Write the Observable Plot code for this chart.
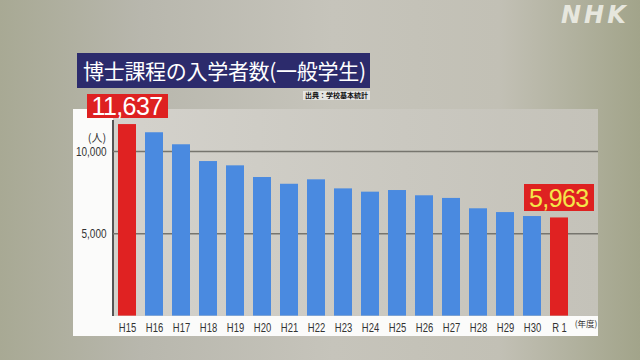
<!DOCTYPE html>
<html><head><meta charset="utf-8">
<script src="https://cdn.jsdelivr.net/npm/d3@7"></script>
<script src="https://cdn.jsdelivr.net/npm/@observablehq/plot@0.6"></script>
<style>
html,body{margin:0;padding:0;}
#wrap{position:relative;width:640px;height:360px;overflow:hidden;
 background:linear-gradient(90deg,#a8a994 0%,#b8b7ad 22%,#c6c4bb 52%,#c2c0b5 78%,#a2a48a 100%);
 font-family:"Noto Sans CJK JP",sans-serif;}
.abs{position:absolute;}
#panel{left:73px;top:109px;width:525px;height:227px;background:#fbfbfa;}
#plotbg{left:113px;top:109px;width:485px;height:207px;background:linear-gradient(90deg,#d4d2cc 0%,#cac8c0 60%,#c4c2b9 100%);}
#title{left:77px;top:53px;width:293px;height:35px;background:#2c2b6c;color:#fff;font-size:21px;line-height:35px;padding-left:6px;box-sizing:border-box;white-space:nowrap;letter-spacing:-0.3px;}
#source{left:303px;top:91px;width:67px;height:9px;background:#e4e4e2;color:#111;font-size:7px;line-height:9px;text-align:center;font-weight:bold;white-space:nowrap;}
#nhk{left:561px;top:1px;color:#ececE4;font-family:"DejaVu Sans",sans-serif;font-weight:bold;font-style:italic;font-size:24px;letter-spacing:3px;opacity:0.92;}
#yaxis{left:112px;top:120px;width:2px;height:196px;background:#555;}
.val{position:absolute;background:#de2121;font-family:"Liberation Sans",Arial,sans-serif;font-size:25px;letter-spacing:-0.6px;padding:0 5px;box-sizing:border-box;text-align:center;white-space:nowrap;}
svg{position:absolute;left:0;top:0;}
</style></head>
<body><div id="wrap">
<div class="abs" id="panel"></div>
<div class="abs" id="plotbg"></div>
<div class="abs" id="title">博士課程の入学者数(一般学生)</div>
<div class="abs" id="source">出典：学校基本統計</div>
<div class="abs" id="nhk">NHK</div>
</div>
<script>
const years = ["H15","H16","H17","H18","H19","H20","H21","H22","H23","H24","H25","H26","H27","H28","H29","H30","R 1"];
const entrants = [11637,11140,10410,9390,9130,8420,8010,8280,7730,7530,7630,7310,7150,6520,6290,6050,5963];
const highlighted = ["H15","R 1"];
const yTicks = [5000,10000];
const labelColors = {"H15":"#ffffff","R 1":"#f4e64a"};

const data = years.map((y,i)=>({year:y,value:entrants[i]}));

const plot = Plot.plot({
  width:640, height:360,
  marginLeft:113, marginRight:42, marginTop:118.1, marginBottom:44.4,
  style:{background:"transparent",fontFamily:'"Liberation Sans",Arial,sans-serif',fontSize:"13px",color:"#333"},
  x:{domain:years, range:[113,573], paddingInner:0.34, paddingOuter:0.11, label:null},
  y:{domain:[0,12000], label:null},
  color:{type:"identity"},
  marks:[
    Plot.ruleY(yTicks,{stroke:"#76756e",strokeWidth:1.6}),
    Plot.barY(data,{x:"year",y:"value",fill:d=>highlighted.includes(d.year)?"#e02222":"#4a8ae0"}),
    Plot.axisX({tickSize:0,tickPadding:6,fontSize:13.5,fill:"#333"}),
    Plot.axisY({ticks:yTicks,tickFormat:d3.format(","),tickSize:0,tickPadding:7,fontSize:12.5,fill:"#333"}),
    Plot.text(["(人)"],{frameAnchor:"top-left",textAnchor:"middle",dx:-16.5,dy:16,fontSize:11,fontFamily:"Noto Sans CJK JP",fill:"#333"}),
    Plot.text(["(年度)"],{frameAnchor:"bottom-right",textAnchor:"end",dx:-1,dy:11,fontSize:8.5,fontFamily:"Noto Sans CJK JP",fill:"#333"})
  ]
});
const wrap = document.getElementById("wrap");
wrap.appendChild(plot);

// condense tick label glyphs horizontally (narrow broadcast font)
function condense(label, sx){
  plot.querySelectorAll(`g[aria-label="${label}"] text`).forEach(t=>{
    const tr = t.getAttribute("transform");
    if (tr) { t.setAttribute("transform", tr + ` scale(${sx},1)`); }
    else {
      const x = +t.getAttribute("x")||0, y = +t.getAttribute("y")||0;
      t.removeAttribute("x"); t.removeAttribute("y");
      t.setAttribute("transform", `translate(${x},${y}) scale(${sx},1)`);
    }
  });
}
condense("x-axis tick label", 0.7);
condense("y-axis tick label", 0.8);

const xs = plot.scale("x"), ys = plot.scale("y");
const yIdent = document.createElement("div");
yIdent.className="abs"; yIdent.id="yaxis"; wrap.insertBefore(yIdent, plot);

highlighted.forEach(h=>{
  const i = years.indexOf(h);
  const cx = xs.apply(h) + xs.bandwidth/2;
  const top = ys.apply(entrants[i]);
  const el = document.createElement("div");
  el.className="val";
  el.textContent = d3.format(",")(entrants[i]);
  el.style.color = labelColors[h];
  el.style.height = (i===0?24:27)+"px";
  el.style.lineHeight = (i===0?25:28)+"px";
  wrap.appendChild(el);
  const w = el.offsetWidth;
  el.style.left = (cx - w/2)+"px";
  el.style.top = (top - 6 - (i===0?24:27))+"px";
});
</script>
</body></html>
